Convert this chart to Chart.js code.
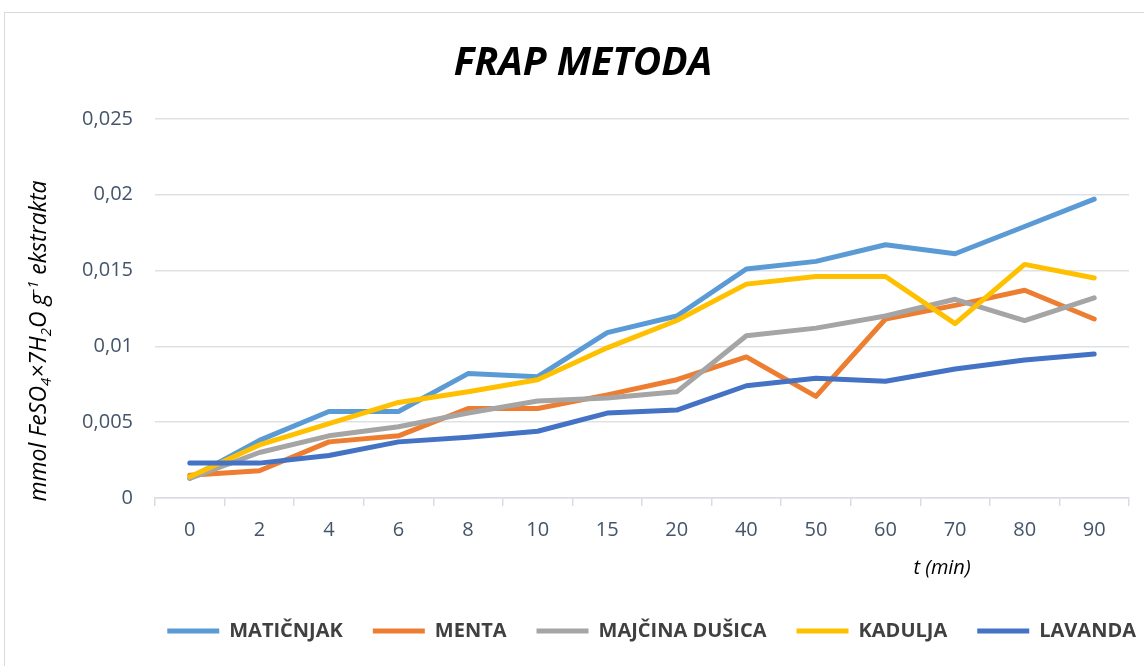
<!DOCTYPE html>
<html>
<head>
<meta charset="utf-8">
<script src="https://cdn.jsdelivr.net/npm/chart.js@4.4.1/dist/chart.umd.min.js"></script>
<style>
  html, body { margin: 0; padding: 0; background: #fff; }
  #frame { position: absolute; left: 4px; top: 12px; width: 1200px; height: 700px;
           border-left: 1px solid #d9d9d9; border-top: 1px solid #d9d9d9; }
  #wrap { position: absolute; left: 0; top: 0; width: 1144px; height: 666px; }
</style>
</head>
<body>
<div id="frame"></div>
<div id="wrap"><canvas id="c" width="1144" height="666"></canvas></div>
<script>
const categories = ['0','2','4','6','8','10','15','20','40','50','60','70','80','90'];
const yTickLabels = ['0','0,005','0,01','0,015','0,02','0,025'];
const maticnjak = [0.0013,0.0038,0.0057,0.0057,0.0082,0.0080,0.0109,0.0120,0.0151,0.0156,0.0167,0.0161,0.0179,0.0197];
const menta = [0.0015,0.0018,0.0037,0.0041,0.0059,0.0059,0.0068,0.0078,0.0093,0.0067,0.0118,0.0127,0.0137,0.0118];
const majcinaDusica = [0.0013,0.0030,0.0041,0.0047,0.0056,0.0064,0.0066,0.0070,0.0107,0.0112,0.0120,0.0131,0.0117,0.0132];
const kadulja = [0.0014,0.0035,0.0049,0.0063,0.0070,0.0078,0.0099,0.0117,0.0141,0.0146,0.0146,0.0115,0.0154,0.0145];
const lavanda = [0.0023,0.0023,0.0028,0.0037,0.0040,0.0044,0.0056,0.0058,0.0074,0.0079,0.0077,0.0085,0.0091,0.0095];
const seriesNames = ['MATIČNJAK','MENTA','MAJČINA DUŠICA','KADULJA','LAVANDA'];
const seriesColors = ['#5B9BD5','#ED7D31','#A5A5A5','#FFC000','#4472C4'];
const seriesData = [maticnjak, menta, majcinaDusica, kadulja, lavanda];

const FONT = "'Open Sans', 'DejaVu Sans', sans-serif";

const textPlugin = {
  id: 'extraText',
  afterLayout(chart) {
    const lg = chart.legend;
    if (lg) { lg.left += 37; lg.right += 37; }
  },
  afterDraw(chart) {
    const ctx = chart.ctx;
    const size = 23;
    const small = 15;
    const parts = [
      {t: 'mmol FeSO', s: size, dy: 0},
      {t: '4', s: small, dy: 5},
      {t: '×7H', s: size, dy: 0},
      {t: '2', s: small, dy: 5},
      {t: 'O g', s: size, dy: 0},
      {t: '-1', s: small, dy: -8},
      {t: ' ekstrakta', s: size, dy: 0}
    ];
    ctx.save();
    let total = 0;
    parts.forEach(p => { ctx.font = 'italic ' + p.s + 'px ' + FONT; p.w = ctx.measureText(p.t).width; total += p.w; });
    ctx.translate(46, 341);
    ctx.rotate(-Math.PI / 2);
    ctx.fillStyle = '#000';
    ctx.textBaseline = 'alphabetic';
    ctx.textAlign = 'left';
    let x = -total / 2;
    parts.forEach(p => { ctx.font = 'italic ' + p.s + 'px ' + FONT; ctx.fillText(p.t, x, p.dy); x += p.w; });
    ctx.restore();
    ctx.save();
    ctx.font = 'italic 20px ' + FONT;
    ctx.fillStyle = '#000';
    ctx.textAlign = 'center';
    ctx.textBaseline = 'middle';
    ctx.fillText('t (min)', 942, 568);
    ctx.restore();
  }
};

function build() {
  const datasets = seriesNames.map((name, i) => ({
    label: name,
    data: seriesData[i],
    borderColor: seriesColors[i],
    backgroundColor: seriesColors[i],
    borderWidth: 5,
    borderCapStyle: 'round',
    borderJoinStyle: 'round',
    pointRadius: 0,
    pointHoverRadius: 0,
    tension: 0,
    fill: false,
    order: seriesNames.length - i
  }));
  new Chart(document.getElementById('c'), {
    type: 'line',
    data: { labels: categories, datasets },
    plugins: [textPlugin],
    options: {
      responsive: false,
      animation: false,
      events: [],
      layout: { padding: { left: 37, right: 15, top: 0, bottom: 15 } },
      plugins: {
        title: {
          display: true,
          text: 'FRAP METODA',
          color: '#000',
          font: { family: FONT, size: 39, weight: 'bold', style: 'italic', lineHeight: 1.2 },
          padding: { top: 40, bottom: 32 }
        },
        legend: {
          position: 'bottom',
          align: 'end',
          labels: {
            usePointStyle: true,
            pointStyle: 'line',
            pointStyleWidth: 52,
            boxHeight: 20,
            padding: 30,
            color: '#404040',
            font: { family: FONT, size: 20, weight: 'bold' },
            sort: (a, b) => a.datasetIndex - b.datasetIndex
          }
        },
        tooltip: { enabled: false }
      },
      scales: {
        x: {
          type: 'category',
          offset: true,
          grid: { offset: true, drawOnChartArea: false, drawTicks: true, tickLength: 8, color: '#d9dde3', lineWidth: 1.5 },
          border: { display: true, color: '#d9dde3', width: 1.5 },
          ticks: { color: '#44546A', font: { family: FONT, size: 20 }, padding: 12, maxRotation: 0, autoSkip: false },
          afterFit: s => { s.height = 93; }
        },
        y: {
          min: 0,
          max: 0.025,
          grid: { drawTicks: false, color: '#dde1e6', lineWidth: 1.5 },
          border: { display: false },
          ticks: {
            stepSize: 0.005,
            color: '#44546A',
            font: { family: FONT, size: 20 },
            padding: 22,
            callback: (v, i) => yTickLabels[i]
          },
          afterFit: s => { s.width = 118; }
        }
      }
    }
  });
}

const loads = [
  "20px 'Open Sans'", "italic 20px 'Open Sans'", "bold 20px 'Open Sans'", "italic bold 39px 'Open Sans'"
].map(f => document.fonts ? document.fonts.load(f).catch(() => null) : Promise.resolve());
Promise.all(loads).then(build, build);
</script>
</body>
</html>
